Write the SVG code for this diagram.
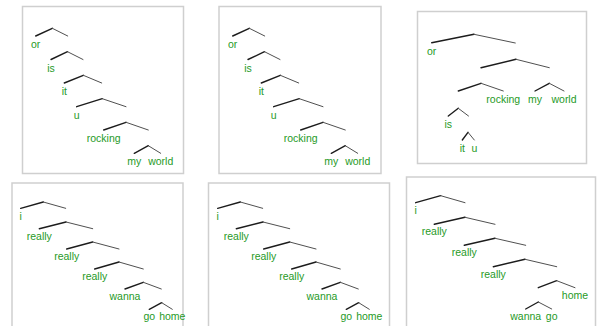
<svg xmlns="http://www.w3.org/2000/svg" width="597" height="326" viewBox="0 0 597 326">
<style>
.box{fill:#fff;stroke:#cfcfcf;stroke-width:1.5}
.l{stroke:#1c1c1c;stroke-width:1.4;fill:none;stroke-linecap:round}
.r{stroke:#505050;stroke-width:1;fill:none;stroke-linecap:round}
text{font-family:"Liberation Sans",Arial,sans-serif;font-size:10.5px;fill:#1f9a1f;text-anchor:middle}
</style>
<rect width="597" height="326" fill="#fff"/>

<!-- Panel 1 -->
<g id="panel1">
<rect class="box" x="22.5" y="6.5" width="161" height="167"/>
<g id="p1-connectors">
<path class="l" d="M35.7,36 L52.3,28.3"/><path class="r" d="M52.3,28.3 L67.7,36"/>
<path class="l" d="M51,59.5 L67.5,51.7"/><path class="r" d="M67.5,51.7 L83,59.5"/>
<path class="l" d="M64.3,83 L83.3,75.3"/><path class="r" d="M83.3,75.3 L101.7,83"/>
<path class="l" d="M76.7,106.7 L102.3,98.7"/><path class="r" d="M102.3,98.7 L126,106.7"/>
<path class="l" d="M103.7,130 L126,122.3"/><path class="r" d="M126,122.3 L148.3,130"/>
<path class="l" d="M134.3,153.3 L148.3,145.7"/><path class="r" d="M148.3,145.7 L160.7,153.3"/>
</g>
<g id="p1-or"><text x="35.7" y="48">or</text></g>
<g id="p1-is"><text x="51" y="71.5">is</text></g>
<g id="p1-it"><text x="64.3" y="95">it</text></g>
<g id="p1-u"><text x="76.7" y="118.7">u</text></g>
<g id="p1-rocking"><text x="103.7" y="142">rocking</text></g>
<g id="p1-my"><text x="134.3" y="165.3">my</text></g>
<g id="p1-world"><text x="160.7" y="165.3">world</text></g>
</g>

<!-- Panel 2 -->
<g id="panel2" transform="translate(197,0)">
<rect class="box" x="22" y="6.5" width="162" height="167"/>
<g id="p2-connectors">
<path class="l" d="M35.7,36 L52.3,28.3"/><path class="r" d="M52.3,28.3 L67.7,36"/>
<path class="l" d="M51,59.5 L67.5,51.7"/><path class="r" d="M67.5,51.7 L83,59.5"/>
<path class="l" d="M64.3,83 L83.3,75.3"/><path class="r" d="M83.3,75.3 L101.7,83"/>
<path class="l" d="M76.7,106.7 L102.3,98.7"/><path class="r" d="M102.3,98.7 L126,106.7"/>
<path class="l" d="M103.7,130 L126,122.3"/><path class="r" d="M126,122.3 L148.3,130"/>
<path class="l" d="M134.3,153.3 L148.3,145.7"/><path class="r" d="M148.3,145.7 L160.7,153.3"/>
</g>
<g id="p2-or"><text x="35.7" y="48">or</text></g>
<g id="p2-is"><text x="51" y="71.5">is</text></g>
<g id="p2-it"><text x="64.3" y="95">it</text></g>
<g id="p2-u"><text x="76.7" y="118.7">u</text></g>
<g id="p2-rocking"><text x="103.7" y="142">rocking</text></g>
<g id="p2-my"><text x="134.3" y="165.3">my</text></g>
<g id="p2-world"><text x="160.7" y="165.3">world</text></g>
</g>

<!-- Panel 3 -->
<g id="panel3">
<rect class="box" x="417.5" y="11.5" width="169" height="152"/>
<g id="p3-connectors">
<path class="l" d="M431.7,42.7 L474,34.3"/><path class="r" d="M474,34.3 L515.3,43"/>
<path class="l" d="M481,67.7 L516,59.3"/><path class="r" d="M516,59.3 L549.3,67.7"/>
<path class="l" d="M458.3,91 L481,83.3"/><path class="r" d="M481,83.3 L503.3,91"/>
<path class="l" d="M535,91 L549.3,83.3"/><path class="r" d="M549.3,83.3 L564,91"/>
<path class="l" d="M448.3,116 L458.3,108.3"/><path class="r" d="M458.3,108.3 L468.5,116"/>
<path class="l" d="M462.3,140 L468,132.3"/><path class="r" d="M468,132.3 L474.3,140"/>
</g>
<g id="p3-or"><text x="431.7" y="55">or</text></g>
<g id="p3-rocking"><text x="503.3" y="103">rocking</text></g>
<g id="p3-my"><text x="535" y="103">my</text></g>
<g id="p3-world"><text x="564" y="103">world</text></g>
<g id="p3-is"><text x="448.3" y="128">is</text></g>
<g id="p3-it"><text x="462.3" y="152">it</text></g>
<g id="p3-u"><text x="474.3" y="152">u</text></g>
</g>

<!-- Panel 4 -->
<g id="panel4">
<rect class="box" x="12" y="183" width="171" height="150"/>
<g id="p4-connectors">
<path class="l" d="M20.7,208.3 L43.3,202"/><path class="r" d="M43.3,202 L65.7,208.3"/>
<path class="l" d="M39.3,228.7 L66,222"/><path class="r" d="M66,222 L92.7,228.7"/>
<path class="l" d="M66.7,249 L92.7,242"/><path class="r" d="M92.7,242 L119,249"/>
<path class="l" d="M94.7,269 L119,262"/><path class="r" d="M119,262 L143.3,269"/>
<path class="l" d="M125,289 L143.3,282.3"/><path class="r" d="M143.3,282.3 L161.3,289"/>
<path class="l" d="M149.3,309.3 L161.7,302.7"/><path class="r" d="M161.7,302.7 L172.3,309.3"/>
</g>
<g id="p4-i"><text x="20.7" y="219.5">i</text></g>
<g id="p4-really1"><text x="39.3" y="239.7">really</text></g>
<g id="p4-really2"><text x="66.7" y="260">really</text></g>
<g id="p4-really3"><text x="94.7" y="280">really</text></g>
<g id="p4-wanna"><text x="125" y="300">wanna</text></g>
<g id="p4-go"><text x="149.3" y="320.3">go</text></g>
<g id="p4-home"><text x="172.3" y="320.3">home</text></g>
</g>

<!-- Panel 5 -->
<g id="panel5" transform="translate(197,0)">
<rect class="box" x="11.5" y="183" width="181" height="150"/>
<g id="p5-connectors">
<path class="l" d="M20.7,208.3 L43.3,202"/><path class="r" d="M43.3,202 L65.7,208.3"/>
<path class="l" d="M39.3,228.7 L66,222"/><path class="r" d="M66,222 L92.7,228.7"/>
<path class="l" d="M66.7,249 L92.7,242"/><path class="r" d="M92.7,242 L119,249"/>
<path class="l" d="M94.7,269 L119,262"/><path class="r" d="M119,262 L143.3,269"/>
<path class="l" d="M125,289 L143.3,282.3"/><path class="r" d="M143.3,282.3 L161.3,289"/>
<path class="l" d="M149.3,309.3 L161.7,302.7"/><path class="r" d="M161.7,302.7 L172.3,309.3"/>
</g>
<g id="p5-i"><text x="20.7" y="219.5">i</text></g>
<g id="p5-really1"><text x="39.3" y="239.7">really</text></g>
<g id="p5-really2"><text x="66.7" y="260">really</text></g>
<g id="p5-really3"><text x="94.7" y="280">really</text></g>
<g id="p5-wanna"><text x="125" y="300">wanna</text></g>
<g id="p5-go"><text x="149.3" y="320.3">go</text></g>
<g id="p5-home"><text x="172.3" y="320.3">home</text></g>
</g>

<!-- Panel 6 -->
<g id="panel6">
<rect class="box" x="406.5" y="177" width="189" height="160"/>
<g id="p6-connectors">
<path class="l" d="M415.7,202.7 L440.7,195.7"/><path class="r" d="M440.7,195.7 L465,202.7"/>
<path class="l" d="M434.3,224.3 L465,217.3"/><path class="r" d="M465,217.3 L495,224.3"/>
<path class="l" d="M464.3,245.3 L495,238.3"/><path class="r" d="M495,238.3 L525.7,245.3"/>
<path class="l" d="M493.3,266.7 L525,259.3"/><path class="r" d="M525,259.3 L556.7,266.7"/>
<path class="l" d="M538.3,287.7 L556.7,280.7"/><path class="r" d="M556.7,280.7 L575,287.7"/>
<path class="l" d="M525.7,309 L538.3,302"/><path class="r" d="M538.3,302 L551.7,309"/>
</g>
<g id="p6-i"><text x="415.7" y="213.5">i</text></g>
<g id="p6-really1"><text x="434.3" y="235.3">really</text></g>
<g id="p6-really2"><text x="464.3" y="256.3">really</text></g>
<g id="p6-really3"><text x="493.3" y="277.7">really</text></g>
<g id="p6-home"><text x="575" y="298.7">home</text></g>
<g id="p6-wanna"><text x="525.7" y="320">wanna</text></g>
<g id="p6-go"><text x="551.7" y="320">go</text></g>
</g>
</svg>
